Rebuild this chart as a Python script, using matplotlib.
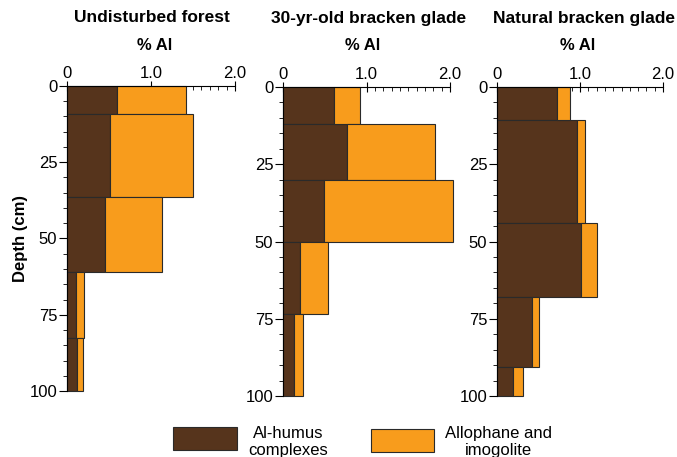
import matplotlib
matplotlib.use('Agg')
import numpy as np
from matplotlib import pyplot as plt
from matplotlib.patches import Rectangle
from matplotlib.ticker import MultipleLocator

plt.rcParams['font.family'] = ['Liberation Sans', 'DejaVu Sans']

# 样地名称
sites = ["Undisturbed forest", "30-yr-old bracken glade", "Natural bracken glade"]
# 土层边界 (cm)
forest_depth = [0, 9.2, 36.5, 61, 82.5, 100]
glade30_depth = [0, 12, 30.2, 50, 73.5, 100]
natural_depth = [0, 10.7, 44, 68, 90.7, 100]
# Al-humus complexes (% Al)
forest_humus = [0.60, 0.51, 0.45, 0.11, 0.12]
glade30_humus = [0.61, 0.77, 0.49, 0.20, 0.13]
natural_humus = [0.72, 0.96, 1.01, 0.42, 0.19]
# Allophane and imogolite (% Al)
forest_allo = [0.82, 0.99, 0.68, 0.09, 0.07]
glade30_allo = [0.31, 1.05, 1.55, 0.34, 0.11]
natural_allo = [0.16, 0.10, 0.19, 0.08, 0.12]

brown = '#56341c'
orange = '#f89c1c'
edge = '#2a2a2a'

depths = [forest_depth, glade30_depth, natural_depth]
humus = [forest_humus, glade30_humus, natural_humus]
allo = [forest_allo, glade30_allo, natural_allo]

fig = plt.figure(figsize=(6.77, 4.57), dpi=100)
W, H = 677, 457
# 每个面板的像素位置 (left, right, top, bottom)
boxes = [(67, 235, 86, 391), (283, 450, 87, 396), (497, 663, 87, 396)]
title_x = [152, 369, 584]
label_x = [155, 363, 578]

for i, (l, r, t, b) in enumerate(boxes):
    ax = fig.add_axes([l / W, 1 - b / H, (r - l) / W, (b - t) / H])
    d = np.array(depths[i])
    top = d[:-1]
    height = np.diff(d)
    hu = np.array(humus[i])
    al = np.array(allo[i])
    ax.barh(top, hu, height=height, align='edge', color=brown,
            edgecolor=edge, lw=0.8, clip_on=False, zorder=2)
    ax.barh(top, al, left=hu, height=height, align='edge', color=orange,
            edgecolor=edge, lw=0.8, clip_on=False, zorder=2)
    ax.set_xlim(0, 2.0)
    ax.set_ylim(100, 0)
    for s in ['right', 'bottom']:
        ax.spines[s].set_visible(False)
    for s in ['top', 'left']:
        ax.spines[s].set_linewidth(0.8)
        ax.spines[s].set_zorder(3)
    ax.xaxis.tick_top()
    ax.set_xticks([0, 1, 2])
    ax.set_xticklabels(['0', '1.0', '2.0'])
    ax.xaxis.set_minor_locator(MultipleLocator(0.1))
    ax.tick_params(axis='x', which='major', direction='inout', length=7, width=0.8,
                   labelsize=12, pad=0)
    ax.tick_params(axis='x', which='minor', direction='in', length=3, width=0.6)
    ax.set_yticks([0, 25, 50, 75, 100])
    ax.yaxis.set_minor_locator(MultipleLocator(5))
    ax.tick_params(axis='y', which='major', direction='out', length=6, width=0.8,
                   labelsize=12, pad=1)
    ax.tick_params(axis='y', which='minor', direction='out', length=3, width=0.6)
    fig.text(title_x[i] / W, 1 - 18 / H, sites[i], ha='center', va='center',
             fontsize=12.5, fontweight='bold')
    fig.text(label_x[i] / W, 1 - 46 / H, '% Al', ha='center', va='center',
             fontsize=12, fontweight='bold')
    if i == 0:
        ax.set_ylabel('Depth (cm)', fontsize=12, fontweight='bold', labelpad=1)

# 图例
fig.patches.append(Rectangle((173 / W, 1 - 450 / H), 64 / W, 23 / H,
                             transform=fig.transFigure, facecolor=brown,
                             edgecolor=edge, lw=0.8))
fig.patches.append(Rectangle((371 / W, 1 - 452 / H), 63 / W, 23 / H,
                             transform=fig.transFigure, facecolor=orange,
                             edgecolor=edge, lw=0.8))
fig.text(288 / W, 1 - 442 / H, 'Al-humus\ncomplexes', ha='center', va='center',
         fontsize=12, linespacing=1.1)
fig.text(498 / W, 1 - 442 / H, 'Allophane and\nimogolite', ha='center', va='center',
         fontsize=12, linespacing=1.1)

plt.savefig('out.png', dpi=100)
